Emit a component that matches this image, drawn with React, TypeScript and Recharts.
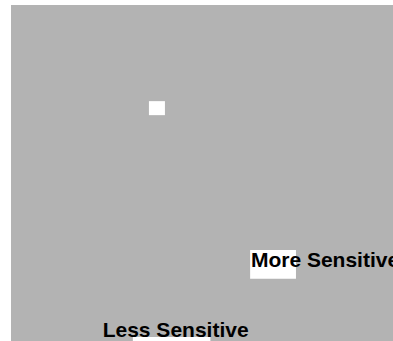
import React from 'react';
import { ScatterChart, Scatter, XAxis, YAxis, ReferenceArea } from 'recharts';

// plot space runs 0..100 on both axes
const backdrop = [{ x1: 0, x2: 100, y1: 0, y2: 100 }];
const labelBoxes = [
    { x1: 62.6, x2: 74.6, y1: 18.5, y2: 27.1 },
    { x1: 31.9, x2: 52.2, y1: 0, y2: 1.2 },
];
const points = [{ x: 38.2, y: 69.3 }];
const labels = [
    { x: 62.8, y: 22.0, text: 'More Sensitive' },
    { x: 24.0, y: 1.3, text: 'Less Sensitive' },
];

const GRAY = '#b3b3b3';

const SquareMark = ({ cx, cy }: any) => (
    <rect x={cx - 8} y={cy - 7} width={16} height={14} fill="#ffffff" />
);

const TextMark = ({ cx, cy, payload }: any) => (
    <text
        x={cx}
        y={cy}
        fill="#000000"
        fontSize={21}
        fontWeight="bold"
        fontFamily="'Liberation Sans', Arial, sans-serif"
    >
        {payload.text}
    </text>
);

export default function App() {
    return (
        <div style={{ position: 'absolute', left: 0, top: 0, width: 393, height: 341, background: '#ffffff' }}>
            <ScatterChart width={393} height={341} margin={{ top: 5, right: 0, bottom: 0, left: 11 }}>
                <XAxis type="number" dataKey="x" domain={[0, 100]} hide />
                <YAxis type="number" dataKey="y" domain={[0, 100]} hide />
                {backdrop.map((b, i) => (
                    <ReferenceArea key={`bg-${i}`} {...b} fill={GRAY} fillOpacity={1} stroke="none" />
                ))}
                {labelBoxes.map((b, i) => (
                    <ReferenceArea key={`box-${i}`} {...b} fill="#ffffff" fillOpacity={1} stroke="none" />
                ))}
                <Scatter data={points} shape={<SquareMark />} isAnimationActive={false} />
                <Scatter data={labels} shape={<TextMark />} isAnimationActive={false} />
            </ScatterChart>
        </div>
    );
}
